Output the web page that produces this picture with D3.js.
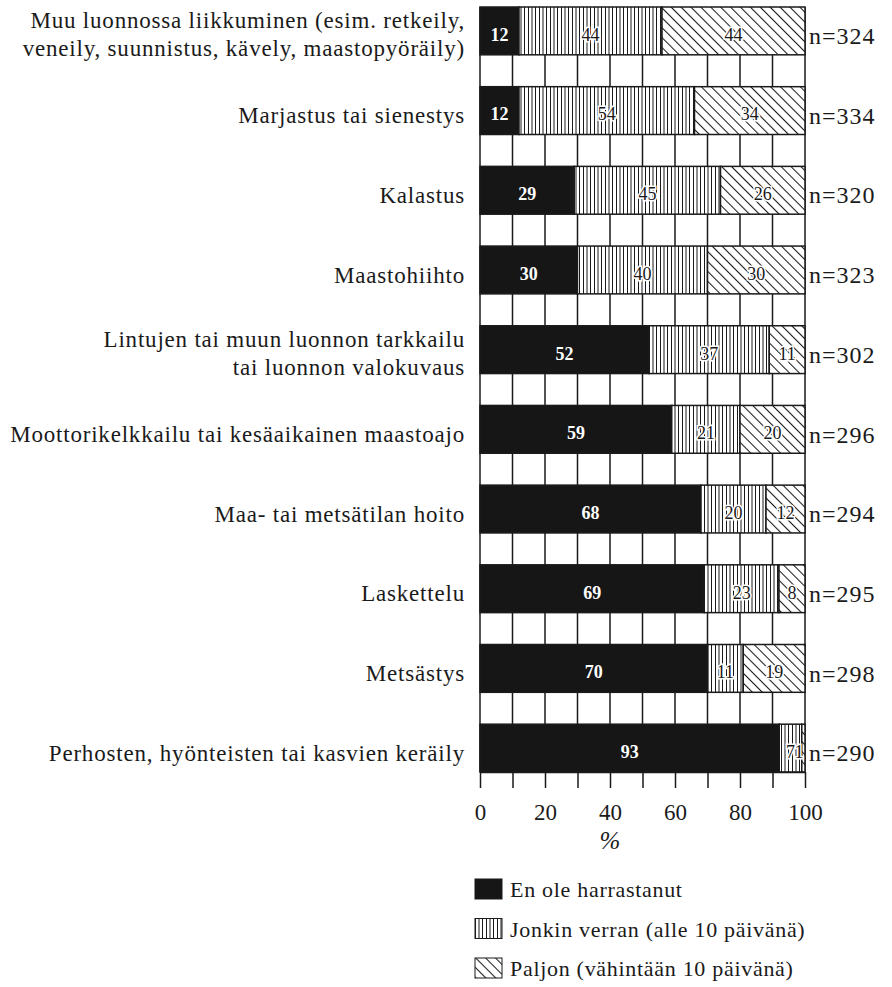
<!DOCTYPE html>
<html>
<head>
<meta charset="utf-8">
<script src="https://cdn.jsdelivr.net/npm/d3@7"></script>
<style>
    body { margin: 0; background: #fff; }
    text { font-family: "Liberation Serif", "DejaVu Serif", serif; fill: #1a1a1a; }
</style>
</head>
<body>
<div id="chart"></div>
<script>
// activities, top to bottom (line breaks as in the original)
const categories = [
    "Muu luonnossa liikkuminen (esim. retkeily,|veneily, suunnistus, kävely, maastopyöräily)",
    "Marjastus tai sienestys",
    "Kalastus",
    "Maastohiihto",
    "Lintujen tai muun luonnon tarkkailu|tai luonnon valokuvaus",
    "Moottorikelkkailu tai kesäaikainen maastoajo",
    "Maa- tai metsätilan hoito",
    "Laskettelu",
    "Metsästys",
    "Perhosten, hyönteisten tai kasvien keräily"
];

// percentages per series
const never = [12, 12, 29, 30, 52, 59, 68, 69, 70, 93];
const some = [44, 54, 45, 40, 37, 21, 20, 23, 11, 7];
const much = [44, 34, 26, 30, 11, 20, 12, 8, 19, 1];
const nValues = [324, 334, 320, 323, 302, 296, 294, 295, 298, 290];

const seriesNames = ["En ole harrastanut", "Jonkin verran (alle 10 päivänä)", "Paljon (vähintään 10 päivänä)"];
const tickValues = [0, 10, 20, 30, 40, 50, 60, 70, 80, 90, 100];

const width = 892;
const height = 987;

const svg = d3.select("#chart")
    .append("svg")
    .attr("width", width)
    .attr("height", height);

// patterns for the two hatched series
const defs = svg.append("defs");

const vert = defs.append("pattern")
    .attr("id", "vert")
    .attr("patternUnits", "userSpaceOnUse")
    .attr("width", 11)
    .attr("height", 10);
vert.append("rect").attr("width", 11).attr("height", 10).attr("fill", "#fff");
[0.5, 4, 7.5].forEach(function(px) {
    vert.append("line")
        .attr("x1", px).attr("x2", px)
        .attr("y1", 0).attr("y2", 10)
        .attr("stroke", "#1a1a1a")
        .attr("stroke-width", 1);
});

const diag = defs.append("pattern")
    .attr("id", "diag")
    .attr("patternUnits", "userSpaceOnUse")
    .attr("width", 7)
    .attr("height", 7)
    .attr("patternTransform", "rotate(-45)");
diag.append("rect").attr("width", 7).attr("height", 7).attr("fill", "#fff");
diag.append("line")
    .attr("x1", 0.5).attr("x2", 0.5)
    .attr("y1", 0).attr("y2", 7)
    .attr("stroke", "#1a1a1a")
    .attr("stroke-width", 1.1);

const fills = ["#161616", "url(#vert)", "url(#diag)"];

// scales
const x = d3.scaleLinear()
    .domain([0, 100])
    .range([480, 805]);

const y = d3.scaleBand()
    .domain(d3.range(categories.length))
    .range([7, 772])
    .paddingInner(0.4)
    .paddingOuter(0);

// grid behind bars
svg.append("g")
    .selectAll("line")
    .data(tickValues)
    .enter()
    .append("line")
    .attr("x1", d => x(d))
    .attr("x2", d => x(d))
    .attr("y1", y.range()[0])
    .attr("y2", y.range()[1])
    .attr("stroke", "#1a1a1a")
    .attr("stroke-width", 1.5);

// stack rows (row 10 adds up to 101, so shares are normalised)
const rows = categories.map(function(c, i) {
    const vals = [never[i], some[i], much[i]];
    const total = d3.sum(vals);
    let acc = 0;
    return vals.map(function(v, k) {
        const seg = { row: i, k: k, value: v, x0: acc / total * 100 };
        acc += v;
        seg.x1 = acc / total * 100;
        return seg;
    });
});
const segments = rows.flat();

svg.append("g")
    .selectAll("rect")
    .data(segments)
    .enter()
    .append("rect")
    .attr("x", d => x(d.x0))
    .attr("y", d => y(d.row))
    .attr("width", d => x(d.x1) - x(d.x0))
    .attr("height", y.bandwidth())
    .attr("fill", d => fills[d.k])
    .attr("stroke", "#1a1a1a")
    .attr("stroke-width", 1.5);

// value labels
svg.append("g")
    .selectAll("text")
    .data(segments)
    .enter()
    .append("text")
    .attr("x", d => Math.min(x((d.x0 + d.x1) / 2), x(100) - 6))
    .attr("y", d => y(d.row) + y.bandwidth() / 2)
    .attr("dy", "0.55em")
    .attr("text-anchor", "middle")
    .style("font-size", "18px")
    .style("font-weight", d => d.k === 0 ? "bold" : "normal")
    .style("fill", d => d.k === 0 ? "#fff" : "#1a1a1a")
    .style("stroke", d => d.k === 0 ? "none" : "#fff")
    .style("stroke-width", 3)
    .style("paint-order", "stroke")
    .text(d => d.value);

// category labels
const catLabels = svg.append("g")
    .selectAll("text")
    .data(categories)
    .enter()
    .append("text")
    .attr("text-anchor", "end")
    .attr("x", 465)
    .attr("y", (d, i) => y(i) + y.bandwidth() / 2)
    .style("font-size", "23px")
    .style("letter-spacing", "0.8px");

catLabels.each(function(d) {
    const lines = d.split("|");
    const t = d3.select(this);
    lines.forEach(function(line, j) {
        t.append("tspan")
            .attr("x", 465)
            .attr("dy", j === 0 ? (lines.length > 1 ? "-0.12em" : "0.55em") : "1.22em")
            .text(line);
    });
});

// n labels
svg.append("g")
    .selectAll("text")
    .data(nValues)
    .enter()
    .append("text")
    .attr("x", 809)
    .attr("y", (d, i) => y(i) + y.bandwidth() / 2)
    .attr("dy", "0.55em")
    .style("font-size", "24px")
    .style("letter-spacing", "1px")
    .text(d => "n=" + d);

// x axis
const xAxis = d3.axisBottom(x)
    .tickValues(tickValues)
    .tickSize(16)
    .tickSizeOuter(0)
    .tickPadding(16)
    .tickFormat(d => d % 20 === 0 ? d : "");

const axisG = svg.append("g")
    .attr("transform", `translate(0,${y.range()[1]})`)
    .call(xAxis);

axisG.select(".domain").attr("stroke", "#1a1a1a").attr("stroke-width", 1.5);
axisG.selectAll(".tick line").attr("stroke", "#1a1a1a").attr("stroke-width", 1.5);
axisG.selectAll(".tick text")
    .style("font-family", "'Liberation Serif', serif")
    .style("font-size", "23px")
    .style("fill", "#1a1a1a");

svg.append("text")
    .attr("x", x(40))
    .attr("y", 849)
    .attr("text-anchor", "middle")
    .style("font-size", "25px")
    .style("font-style", "italic")
    .text("%");

// legend
const legend = svg.append("g")
    .selectAll("g")
    .data(seriesNames)
    .enter()
    .append("g")
    .attr("transform", (d, i) => `translate(475,${879 + i * 39.5})`);

legend.append("rect")
    .attr("width", 27)
    .attr("height", 20)
    .attr("fill", (d, i) => fills[i])
    .attr("stroke", "#1a1a1a")
    .attr("stroke-width", 1);

legend.append("text")
    .attr("x", 35)
    .attr("y", 18)
    .style("font-size", "22px")
    .style("letter-spacing", "0.7px")
    .text(d => d);
</script>
</body>
</html>
